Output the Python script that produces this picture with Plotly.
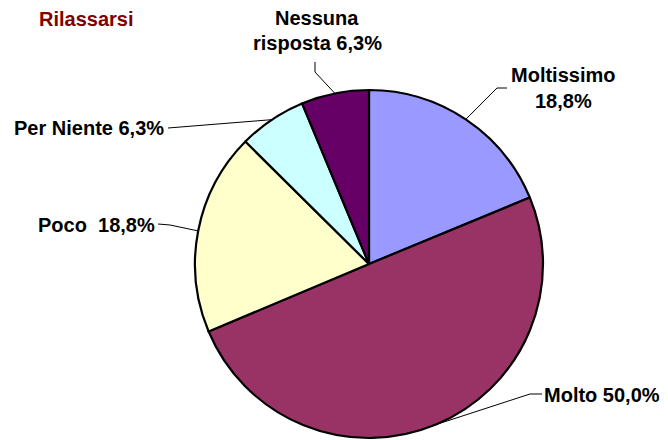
import math
import plotly.graph_objects as go

OFF = 8  # default page body margin
W, H = 668 - OFF, 440 - OFF

categories = ["Moltissimo", "Molto", "Poco", "Per Niente", "Nessuna risposta"]
values = [18.8, 50.0, 18.8, 6.3, 6.3]
colors = ["#9999FF", "#993366", "#FFFFCC", "#CCFFFF", "#660066"]
label_lines = [
    ["Moltissimo", "18,8%"],
    ["Molto 50,0%"],
    ["Poco\u00a0\u00a018,8%"],
    ["Per Niente 6,3%"],
    ["Nessuna", "risposta 6,3%"],
]
title_text = "Rilassarsi"

# pie geometry (page pixels)
cx, cy, r = 369, 264, 174

def px(x):
    return (x - OFF) / W

def py(y):
    return 1 - (y - OFF) / H

fig = go.Figure()
fig.add_trace(go.Pie(
    labels=categories, values=values, sort=False, direction="clockwise",
    rotation=0, marker=dict(colors=colors, line=dict(color="black", width=2.2)),
    textinfo="none", hoverinfo="label+percent", showlegend=False,
    domain=dict(x=[px(cx - r), px(cx + r)], y=[py(cy + r), py(cy - r)]),
))

label_cfg = [
    dict(lines=[(563, 75), (563, 101)], xanchor="center", path=[(507, 88), (497, 88)]),
    dict(lines=[(542, 395)], xanchor="left", path=[(542, 394), (530, 394)]),
    dict(lines=[(157, 225)], xanchor="right", path=[(158, 224), (170, 225)]),
    dict(lines=[(166, 128)], xanchor="right", path=[(168, 128)]),
    dict(lines=[(317, 18), (317, 43)], xanchor="center", path=[(315, 62), (315, 72)]),
]

FONT = "Liberation Sans, Arial, sans-serif"
total = sum(values)
cum = 0.0
shapes = []
annotations = []
for i, v in enumerate(values):
    mid = (cum + v / 2) / total
    cum += v
    ang = 2 * math.pi * mid
    ex = cx + r * math.sin(ang)
    ey = cy - r * math.cos(ang)
    cfg = label_cfg[i]
    pts = cfg["path"] + [(ex, ey)]
    d = "M " + " L ".join(f"{px(x):.5f},{py(y):.5f}" for x, y in pts)
    shapes.append(dict(type="path", path=d, xref="paper", yref="paper",
                       line=dict(color="black", width=1)))
    for (lx, ly), t in zip(cfg["lines"], label_lines[i]):
        annotations.append(dict(
            text=t, x=px(lx), y=py(ly), xref="paper", yref="paper",
            xanchor=cfg["xanchor"], yanchor="middle", showarrow=False,
            font=dict(family=FONT, size=20, color="black", weight="bold"),
        ))

annotations.append(dict(
    text=title_text, x=px(37), y=py(19), xref="paper", yref="paper",
    xanchor="left", yanchor="middle", showarrow=False,
    font=dict(family=FONT, size=20, color="#800000", weight="bold"),
))

fig.update_layout(
    width=W, height=H, margin=dict(l=0, r=0, t=0, b=0),
    paper_bgcolor="white", plot_bgcolor="white",
    shapes=shapes, annotations=annotations,
)

fig.write_html("out.html")
